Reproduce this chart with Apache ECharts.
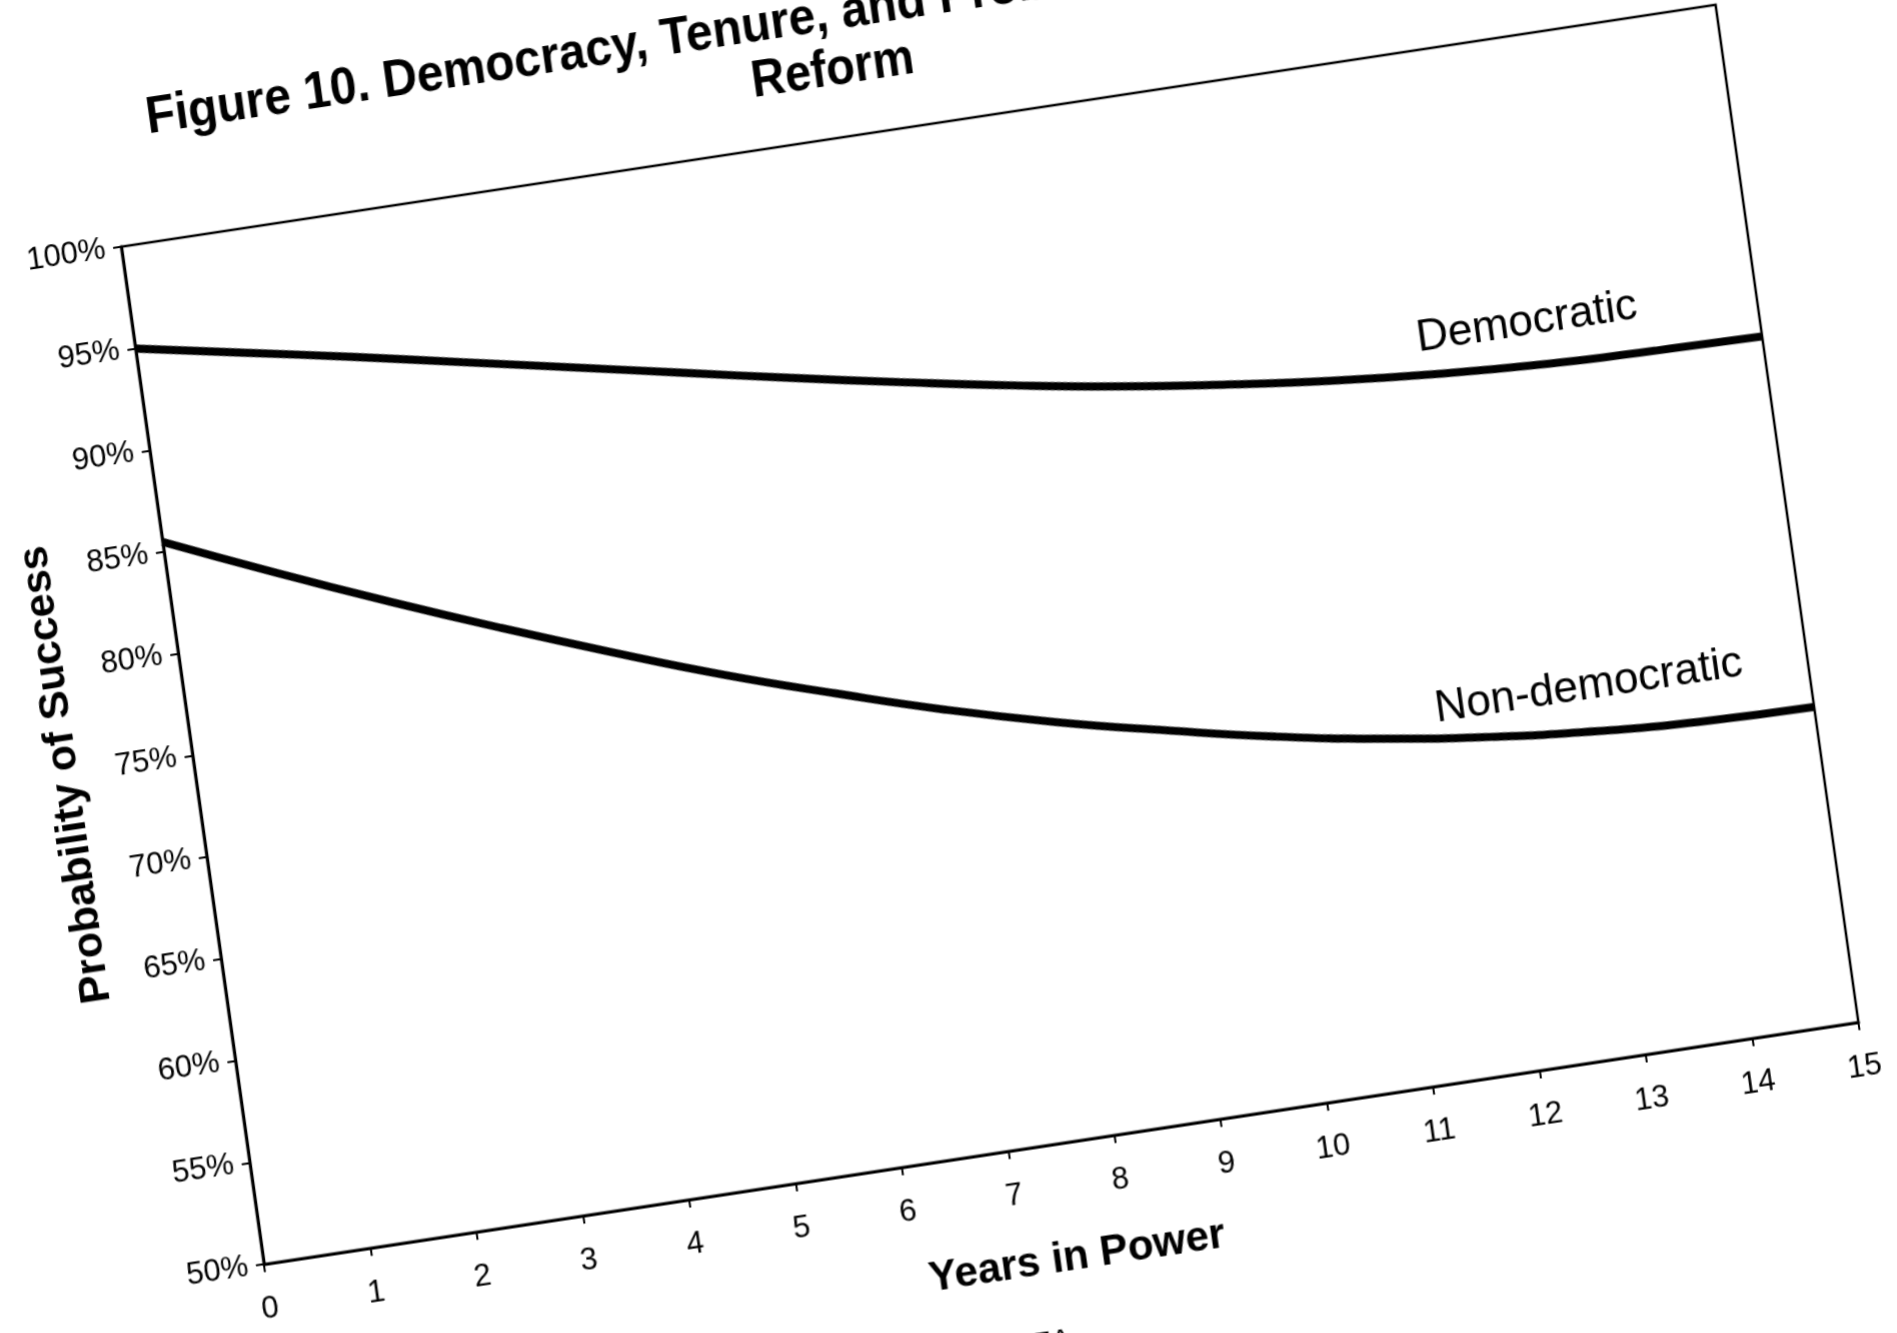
<!DOCTYPE html>
<html>
<head>
<meta charset="utf-8">
<script src="https://cdn.jsdelivr.net/npm/echarts@6/dist/echarts.min.js"></script>
<style>
  html, body { margin: 0; padding: 0; background: #fff; overflow: hidden; width: 1897px; height: 1333px; }
  /* the scanned page sits tilted on the scanner bed */
  #main {
    position: absolute; left: 0; top: 0;
    width: 2100px; height: 1650px;
    transform-origin: 0 0;
    transform: matrix(0.98914, -0.15012, 0.13905, 0.99065, -221.6, -35.1);
  }
</style>
</head>
<body>
<div id="main"></div>
<script>
// Years in power
const years = [0, 1, 2, 3, 4, 5, 6, 7, 8, 9, 10, 11, 12, 13, 14, 15]
// probability of success (%)
const democratic = [95.0, 94.0, 93.0, 91.95, 90.9, 89.85, 88.8, 87.8, 86.85, 86.0, 85.3, 84.7, 84.25, 83.95, 83.8, 83.7]
const nonDemocratic = [85.5, 83.2, 81.0, 78.9, 76.9, 75.0, 73.3, 71.7, 70.3, 69.1, 68.0, 67.1, 66.4, 65.9, 65.6, 65.5]

const titleLines = ['Figure 10. Democracy, Tenure, and Probability of Successful', 'Reform']
const seriesNames = ['Democratic', 'Non-democratic']
// where the series names are written (data coords)
const demLabelAt = [12.85, 86.1]
const nonDemLabelAt = [12.95, 68.1]

const font = "'Liberation Sans', Arial, sans-serif"

var chartObj = echarts.init(document.getElementById('main'))

function lineSeries(name, values, labelAt) {
  return {
    name: name,
    type: 'line',
    smooth: true,
    showSymbol: false,
    lineStyle: { color: '#000', width: 8 },
    data: years.map((x, i) => [x, values[i]]),
    markPoint: {
      symbol: 'circle',
      symbolSize: 0,
      data: [{ coord: labelAt }],
      label: {
        show: true,
        position: 'inside',
        formatter: name,
        fontFamily: font,
        fontSize: 44,
        color: '#000'
      }
    }
  }
}

// title lines, a bit narrow and tall like the print
function titleText(text, y, sx) {
  return {
    type: 'text',
    x: 1029,
    y: y,
    scaleX: sx,
    style: { text: text, font: 'bold 52px ' + font, fill: '#000', align: 'center', verticalAlign: 'middle' }
  }
}

var option = {
  animation: false,
  backgroundColor: '#fff',
  grid: {
    left: 300,
    top: 330,
    width: 1612,
    height: 1027,
    show: true,
    borderColor: '#000',
    borderWidth: 2.5,
    containLabel: false
  },
  graphic: [
    titleText(titleLines[0], 208, 0.92),
    titleText(titleLines[1], 263, 0.9),
    {
      type: 'text', x: 1062, y: 1538,
      style: { text: '17A', font: '30px ' + font, fill: '#000', align: 'center', verticalAlign: 'top' }
    }
  ],
  xAxis: {
    type: 'value',
    min: 0,
    max: 15,
    interval: 1,
    name: 'Years in Power',
    nameLocation: 'middle',
    nameGap: 94,
    nameTextStyle: { fontFamily: font, fontSize: 42, fontWeight: 'bold', color: '#000' },
    axisLine: { show: true, lineStyle: { color: '#000', width: 3 } },
    axisTick: { show: true, inside: false, length: 8, lineStyle: { color: '#000', width: 2 } },
    axisLabel: { margin: 30, fontFamily: font, fontSize: 31, color: '#000' },
    splitLine: { show: false }
  },
  yAxis: {
    type: 'value',
    min: 50,
    max: 100,
    interval: 5,
    name: 'Probability of Success',
    nameLocation: 'middle',
    nameGap: 88,
    nameTextStyle: { fontFamily: font, fontSize: 43, fontWeight: 'bold', color: '#000' },
    axisLine: { show: true, lineStyle: { color: '#000', width: 3 } },
    axisTick: { show: true, inside: false, length: 8, lineStyle: { color: '#000', width: 2 } },
    axisLabel: {
      margin: 16,
      fontFamily: font,
      fontSize: 31,
      color: '#000',
      formatter: '{value}%'
    },
    splitLine: { show: false }
  },
  series: [
    lineSeries(seriesNames[0], democratic, demLabelAt),
    lineSeries(seriesNames[1], nonDemocratic, nonDemLabelAt)
  ]
}

chartObj.setOption(option, true)
</script>
</body>
</html>
